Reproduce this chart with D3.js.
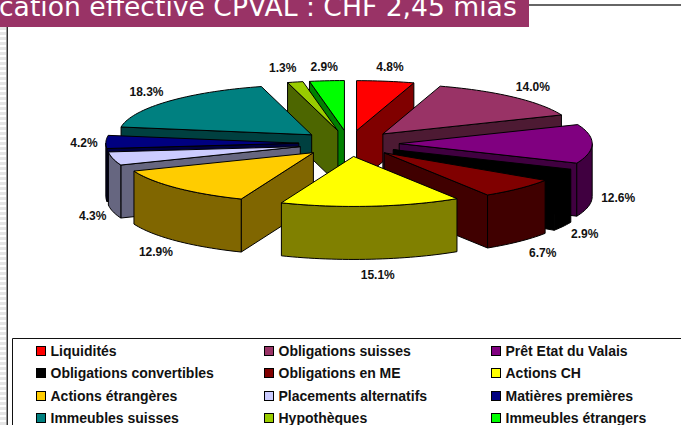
<!DOCTYPE html>
<html><head><meta charset="utf-8">
<script src="https://cdn.jsdelivr.net/npm/d3@7/dist/d3.min.js"></script>
<style>html,body{margin:0;padding:0;background:#fff}svg{display:block}</style>
</head><body><svg id="c" width="681" height="425"></svg>
<script>
const categories = ["Liquidités","Obligations suisses","Prêt Etat du Valais","Obligations convertibles","Obligations en ME","Actions CH","Actions étrangères","Placements alternatifs","Matières premières","Immeubles suisses","Hypothèques","Immeubles étrangers"];
const values = [4.8,14.0,12.6,2.9,6.7,15.1,12.9,4.3,4.2,18.3,1.3,2.9];
const colors = ["#FF0000","#993366","#800080","#000000","#800000","#FFFF00","#FFCC00","#CCCCFF","#000080","#008080","#99CC00","#00FF00"];
const drawOrder = [11,10,9,8,7,6,0,1,2,3,4,5];
const titleText = "cation effective CPVAL : CHF 2,45 mias";

const svg = d3.select("#c");
const cx = 349, cy = 143.5, rx = 193, ry = 50, depth = 53, explode = 0.26;
const px = d3.scaleLinear().domain([-1,1]).range([cx-rx,cx+rx]);
const py = d3.scaleLinear().domain([-1,1]).range([cy-ry,cy+ry]);
const line = d3.line();
const half = c => { const r = d3.rgb(c); return d3.rgb(r.r/2,r.g/2,r.b/2).formatHex(); };

const arcs = d3.pie().value(d=>d).sort(null).startAngle(0).endAngle(2*Math.PI)(values);
const solid = arcs.map((a,i)=>{
  const mid=(a.startAngle+a.endAngle)/2;
  const ax=px(explode*Math.sin(mid)), ay=py(-explode*Math.cos(mid));
  const pt=t=>[ax+rx*Math.sin(t), ay-ry*Math.cos(t)];
  return {i,mid,a0:a.startAngle,a1:a.endAngle,ax,ay,pt,c:colors[i]};
});
const down = p => [p[0],p[1]+depth];
const sample = (t0,t1) => { const n=Math.max(2,Math.ceil((t1-t0)/0.03)); return d3.range(n+1).map(k=>t0+(t1-t0)*k/n); };

// page furniture
svg.append("g").selectAll("rect").data(d3.range(27,425,5)).join("rect")
  .attr("x",0).attr("y",d=>d).attr("width",6).attr("height",3).attr("fill","#e6e6e6");
svg.append("line").attr("x1",7.25).attr("x2",7.25).attr("y1",27).attr("y2",425).attr("stroke","#333").attr("stroke-width",1.5);
svg.append("line").attr("x1",529).attr("x2",681).attr("y1",5).attr("y2",5).attr("stroke","#333").attr("stroke-width",1.5);
svg.append("rect").attr("x",0).attr("y",0).attr("width",529).attr("height",27).attr("fill","#993366");
svg.append("text").text(titleText).attr("x",-1).attr("y",16).attr("fill","#fff")
  .attr("font-family","DejaVu Sans").attr("font-size",26.6);

// pie
const g = svg.append("g").attr("stroke","#000").attr("stroke-width",1).attr("stroke-linejoin","round");
drawOrder.forEach(i=>{
  const s=solid[i], apex=[s.ax,s.ay], w=half(s.c);
  const face=(t)=>{ const p=s.pt(t); g.append("path").attr("fill",w)
    .attr("d",line([apex,p,down(p),down(apex)])+"Z"); };
  if(Math.sin(s.a0)<-1e-6) face(s.a0);
  if(Math.sin(s.a1)>1e-6) face(s.a1);
  const f0=Math.max(s.a0,Math.PI/2), f1=Math.min(s.a1,3*Math.PI/2);
  if(f1>f0){
    const pts=sample(f0,f1).map(s.pt);
    g.append("path").attr("fill",w).attr("d",line(pts.concat(pts.slice().reverse().map(down)))+"Z");
  }
  g.append("path").attr("fill",s.c)
    .attr("d",line([apex].concat(sample(s.a0,s.a1).map(s.pt)))+"Z");
});

// percentage labels
const nudge = {2:-3, 3:-4, 4:3, 5:4, 7:8, 8:7, 10:-6};
svg.append("g").selectAll("text").data(solid).join("text")
  .text(d=>values[d.i].toFixed(1)+"%")
  .attr("x",d=>d.pt(d.mid)[0]+29*Math.sin(d.mid)+(nudge[d.i]||0))
  .attr("y",d=>d.pt(d.mid)[1]+(Math.cos(d.mid)<0?depth:0)-15*Math.cos(d.mid)+5)
  .attr("text-anchor","middle").attr("font-family","Liberation Sans").attr("font-weight","bold")
  .attr("font-size",12).attr("fill","#111");

// legend
svg.append("path").attr("d","M12.5,425V338.5H681").attr("fill","none").attr("stroke","#111").attr("stroke-width",1);
const colX = d3.scaleOrdinal().domain([0,1,2]).range([36,264,491]);
const rowY = d3.scaleOrdinal().domain([0,1,2,3]).range([351,373,396,418]);
const leg = svg.append("g").selectAll("g").data(categories).join("g")
  .attr("transform",(d,i)=>`translate(${colX(i%3)},${rowY(Math.floor(i/3))})`);
leg.append("rect").attr("x",.5).attr("y",-4.5).attr("width",9).attr("height",9)
  .attr("fill",(d,i)=>colors[i]).attr("stroke","#000");
leg.append("text").text(d=>d).attr("x",14.5).attr("y",5).attr("font-family","Liberation Sans")
  .attr("font-weight","bold").attr("font-size",14).attr("fill","#111");
</script></body></html>
